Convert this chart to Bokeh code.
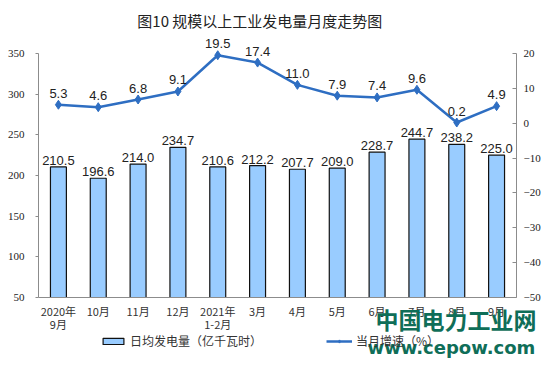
from bokeh.plotting import figure
from bokeh.models import (ColumnDataSource, LinearAxis, Range1d, FixedTicker,
                          LabelSet, Label, Legend, LegendItem, FactorRange)
from bokeh.core.properties import value
from bokeh.embed import file_html
from bokeh.resources import INLINE

# ---------------- data ----------------
months = ["2020年\n9月", "10月", "11月", "12月", "2021年\n1-2月", "3月",
          "4月", "5月", "6月", "7月", "8月", "9月"]
daily_gen = [210.5, 196.6, 214.0, 234.7, 210.6, 212.2, 207.7, 209.0,
             228.7, 244.7, 238.2, 225.0]
growth = [5.3, 4.6, 6.8, 9.1, 19.5, 17.4, 11.0, 7.9, 7.4, 9.6, 0.2, 4.9]
left_ticks = [50, 100, 150, 200, 250, 300, 350]
right_ticks = [-50, -40, -30, -20, -10, 0, 10, 20]
title_text = "图10  规模以上工业发电量月度走势图"
bar_legend = "日均发电量（亿千瓦时）"
line_legend = "当月增速（%）"
wm_cn = "中国电力工业网"
wm_en = "www.cepow.com"

# ---------------- styles ----------------
BAR_FILL = "#99CCFF"
LINE_COLOR = "#2E6EC2"
AXIS_COLOR = "#8C8C8C"
TXT = "#222222"
CJK = "Noto Sans CJK SC"

W, H = 554, 374
n = len(months)
left_lo, left_hi = left_ticks[0], left_ticks[-1]
right_lo, right_hi = right_ticks[0], right_ticks[-1]
# plot area (in canvas pixels) inside a full-canvas frame
px_left, px_right = 38, 516
top_px, bot_px = 53, 297
upp = (left_hi - left_lo) / (bot_px - top_px)   # units per pixel
y_start = left_lo - (H - bot_px) * upp
y_end = left_hi + top_px * upp
scale = (right_hi - right_lo) / (left_hi - left_lo)
r_start = right_lo + (y_start - left_lo) * scale
r_end = right_lo + (y_end - left_lo) * scale
cat_px = (px_right - px_left) / n
x_pad = px_left / cat_px       # padding applied on each side

src = ColumnDataSource(dict(
    m=months, v=daily_gen, g=growth,
    vt=[f"{x:.1f}" for x in daily_gen],
    gt=[f"{x:.1f}" for x in growth],
    l1=[s.split("\n")[0] for s in months],
    l2=[s.split("\n")[1] if "\n" in s else "" for s in months],
    base=[left_lo] * n,
))

p = figure(x_range=FactorRange(*months, range_padding=x_pad,
                               range_padding_units="absolute",
                               factor_padding=0),
           y_range=Range1d(y_start, y_end),
           width=W, height=H,
           min_border_left=0, min_border_right=0,
           min_border_top=0, min_border_bottom=0,
           output_backend="svg", toolbar_location=None)
p.extra_y_ranges = {"right": Range1d(r_start, r_end)}
p.outline_line_color = None
p.xgrid.grid_line_color = None
p.ygrid.grid_line_color = None
p.background_fill_color = "white"
p.border_fill_color = "white"

# left axis
ya = p.yaxis[0]
ya.fixed_location = 0
ya.ticker = FixedTicker(ticks=left_ticks)
ya.bounds = (left_lo, left_hi)
ya.axis_line_color = AXIS_COLOR
ya.major_tick_line_color = AXIS_COLOR
ya.major_tick_out = 3
ya.major_tick_in = 0
ya.minor_tick_line_color = None
ya.major_label_standoff = 11
ya.major_label_text_font = "Liberation Serif"
ya.major_label_text_font_size = "11px"
ya.major_label_text_color = TXT

# right axis
ra = LinearAxis(y_range_name="right", ticker=FixedTicker(ticks=right_ticks),
                bounds=(right_lo, right_hi), fixed_location=n)
ra.axis_line_color = AXIS_COLOR
ra.major_tick_line_color = AXIS_COLOR
ra.major_tick_out = 0
ra.major_tick_in = 4
ra.minor_tick_line_color = None
ra.major_label_standoff = 7
ra.major_label_text_font = "Liberation Serif"
ra.major_label_text_font_size = "11px"
ra.major_label_text_color = TXT
p.add_layout(ra, "right")

# category axis (line only; labels drawn as centred lines below)
xa = p.xaxis[0]
xa.fixed_location = left_lo
xa.bounds = (0, n)
xa.axis_line_color = AXIS_COLOR
xa.major_tick_line_color = None
xa.minor_tick_line_color = None
xa.major_label_text_color = None
p.add_layout(LabelSet(x="m", y="base", text="l1", source=src, y_offset=-13,
                      text_align="center", text_baseline="middle",
                      text_font=value(CJK), text_font_size=value("11px"),
                      text_color="#333333"))
p.add_layout(LabelSet(x="m", y="base", text="l2", source=src, y_offset=-26,
                      text_align="center", text_baseline="middle",
                      text_font=value(CJK), text_font_size=value("11px"),
                      text_color="#333333"))

# bars
bars = p.vbar(x="m", top="v", bottom="base", width=0.4, source=src,
              fill_color=BAR_FILL, line_color="#111111", line_width=1.2)
p.add_layout(LabelSet(x="m", y="v", text="vt", source=src, y_offset=2,
                      text_align="center", text_baseline="bottom",
                      text_font=value("Liberation Sans"),
                      text_font_size=value("13px"), text_color=TXT))

# growth line
ln = p.line(x="m", y="g", source=src, y_range_name="right",
            line_color=LINE_COLOR, line_width=2.5)
mk = p.scatter(x="m", y="g", source=src, y_range_name="right",
               marker="diamond", size=9, fill_color=LINE_COLOR,
               line_color=LINE_COLOR)
p.add_layout(LabelSet(x="m", y="g", text="gt", source=src, y_range_name="right",
                      y_offset=7, text_align="center", text_baseline="bottom",
                      text_font=value("Liberation Sans"),
                      text_font_size=value("13px"), text_color=TXT))

# title
p.add_layout(Label(x=261, y=354, x_units="screen", y_units="screen",
                   text=title_text, text_align="center", text_baseline="middle",
                   text_font=CJK, text_font_size="15px", text_color=TXT))

# legend
legend = Legend(items=[LegendItem(label=bar_legend, renderers=[bars]),
                       LegendItem(label=line_legend, renderers=[ln, mk])],
                orientation="horizontal", location=(100, 25),
                glyph_width=26, glyph_height=8, spacing=64, label_standoff=4,
                padding=0, margin=0, border_line_color=None,
                background_fill_alpha=0,
                label_text_font=CJK, label_text_font_size="12px",
                label_text_color="#333333")
p.add_layout(legend, "center")

# watermark
p.add_layout(Label(x=375, y=56, x_units="screen", y_units="screen",
                   text=wm_cn, text_align="left", text_baseline="middle",
                   text_font=CJK, text_font_style="bold", text_font_size="23px",
                   text_color="#0F6E58", level="overlay"))
p.add_layout(Label(x=367, y=27.5, x_units="screen", y_units="screen",
                   text=wm_en, text_align="left", text_baseline="middle",
                   text_font="DejaVu Sans", text_font_style="bold",
                   text_font_size="18px",
                   text_color="#0F6E58", level="overlay"))

open("out.html", "w").write(file_html(p, INLINE))
